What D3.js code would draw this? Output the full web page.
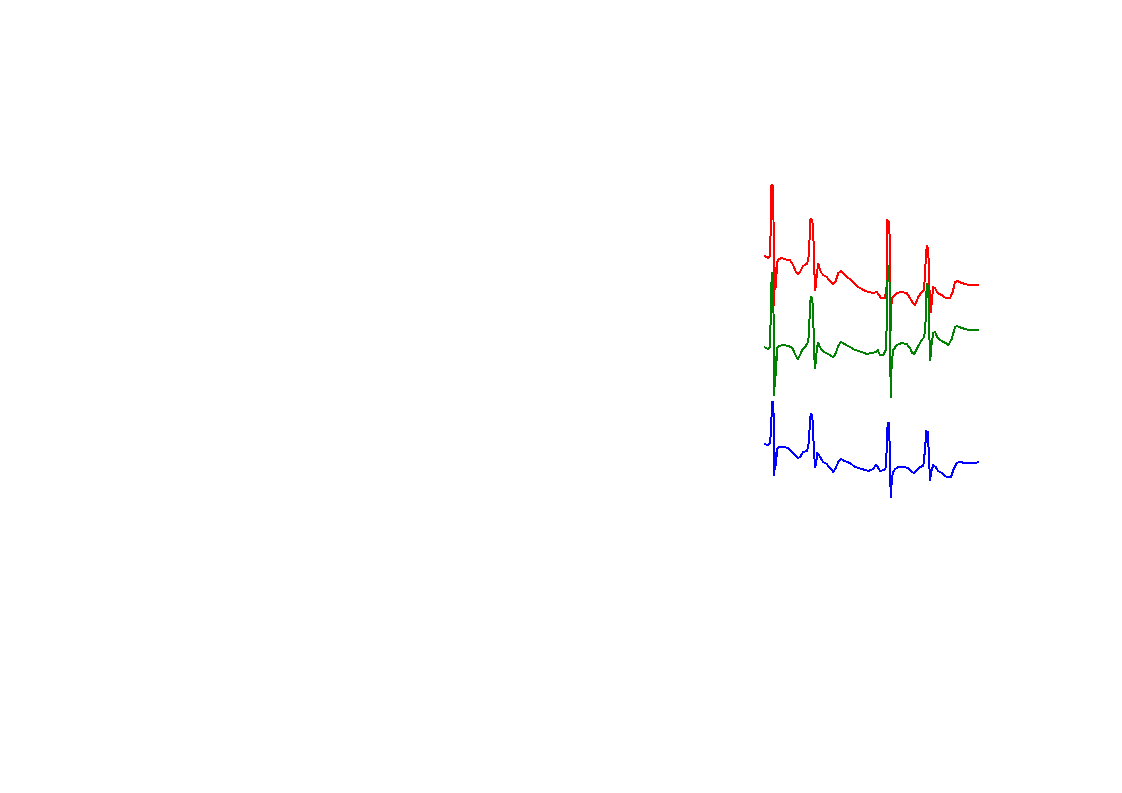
<!DOCTYPE html>
<html>
<head>
<meta charset="utf-8">
<script src="https://cdn.jsdelivr.net/npm/d3@7"></script>
<style>
  html, body { margin: 0; padding: 0; background: #fff; }
  svg { display: block; }
</style>
</head>
<body>
<div class="container"></div>
<script>
// three ECG leads, time in s, amplitude in mV (relative to each lead's own baseline)
const leadNames = ["I", "II", "III"];
const leadColors = ["red", "green", "blue"];
const leadOffsets = [0.91, 0, -0.97];

const redT = [0, .03, .045, .06, .067, .075, .09, .095, .102, .11, .12, .13, .15, .18, .23, .26, .29, .32, .34, .36, .39, .427, .443, .453, .465, .483, .493, .503, .51, .52, .53, .543, .553, .567, .593, .627, .66, .693, .717, .743, .77, .793, .843, .893, .943, .993, 1.043, 1.093, 1.127, 1.15, 1.17, 1.21, 1.225, 1.233, 1.253, 1.26, 1.267, 1.277, 1.293, 1.327, 1.377, 1.427, 1.46, 1.483, 1.51, 1.543, 1.577, 1.6, 1.61, 1.62, 1.63, 1.643, 1.65, 1.66, 1.67, 1.68, 1.693, 1.71, 1.737, 1.777, 1.817, 1.86, 1.887, 1.91, 1.937, 1.977, 2.043, 2.15];
const redV = [0, -.01, -.02, 0, .27, .71, .70, .36, -.49, -.12, -.31, -.06, -.03, -.02, -.04, -.04, -.09, -.16, -.18, -.16, -.10, -.08, -.04, .11, .37, .36, .23, -.12, -.34, -.29, -.16, -.08, -.11, -.16, -.19, -.21, -.25, -.28, -.25, -.17, -.15, -.17, -.22, -.26, -.31, -.34, -.36, -.37, -.36, -.39, -.42, -.42, -.32, .36, .34, -.04, -.74, -.42, -.41, -.37, -.36, -.37, -.42, -.46, -.49, -.41, -.36, -.34, -.19, .03, .10, .06, -.19, -.49, -.56, -.42, -.31, -.32, -.37, -.39, -.42, -.42, -.36, -.26, -.25, -.27, -.29, -.29];

const greenT = [0, .037, .057, .067, .077, .09, .097, .103, .113, .12, .13, .15, .193, .243, .283, .31, .337, .36, .387, .417, .443, .453, .467, .483, .493, .503, .51, .52, .53, .543, .553, .577, .617, .66, .687, .71, .743, .77, .803, .86, .91, .977, 1.027, 1.077, 1.117, 1.137, 1.16, 1.193, 1.217, 1.23, 1.237, 1.253, 1.26, 1.267, 1.277, 1.293, 1.327, 1.377, 1.427, 1.46, 1.483, 1.503, 1.537, 1.577, 1.603, 1.617, 1.627, 1.643, 1.65, 1.663, 1.677, 1.693, 1.71, 1.737, 1.777, 1.817, 1.843, 1.877, 1.91, 1.93, 1.977, 2.043, 2.15];
const greenV = [0, -.02, 0, .27, .74, .72, .20, -.48, -.10, -.28, -.01, .01, .02, .01, -.01, -.07, -.12, -.08, -.02, .01, .05, .24, .50, .49, .27, -.10, -.21, -.13, 0, .04, .01, -.03, -.06, -.08, -.10, -.08, .01, .05, .03, 0, -.03, -.05, -.07, -.06, -.05, -.03, -.08, -.08, -.03, .27, .81, .81, .27, -.50, -.15, -.03, .02, .04, .03, -.01, -.06, -.07, 0, .07, .10, .27, .63, .61, .20, -.13, .04, .14, .15, .09, .06, .04, .02, .08, .20, .21, .19, .17, .17];

const blueT = [0, .04, .06, .07, .08, .093, .097, .103, .113, .12, .13, .15, .193, .243, .283, .31, .337, .36, .393, .427, .443, .453, .467, .483, .493, .503, .513, .523, .533, .55, .567, .593, .627, .66, .693, .717, .743, .77, .803, .86, .91, .977, 1.043, 1.093, 1.117, 1.137, 1.16, 1.203, 1.22, 1.23, 1.237, 1.25, 1.26, 1.267, 1.277, 1.287, 1.31, 1.343, 1.393, 1.443, 1.477, 1.5, 1.527, 1.56, 1.593, 1.61, 1.623, 1.637, 1.647, 1.66, 1.677, 1.693, 1.717, 1.743, 1.777, 1.827, 1.87, 1.893, 1.927, 1.96, 2.01, 2.11, 2.15];
const blueV = [0, -.01, .01, .12, .42, .42, .21, -.31, -.09, -.21, -.05, -.03, -.03, -.04, -.08, -.11, -.14, -.13, -.08, -.07, -.03, .11, .30, .29, .07, -.13, -.23, -.18, -.09, -.11, -.14, -.18, -.20, -.24, -.28, -.24, -.18, -.15, -.17, -.19, -.23, -.25, -.27, -.25, -.21, -.23, -.27, -.26, -.23, .04, .21, .21, -.13, -.53, -.38, -.29, -.25, -.23, -.23, -.24, -.28, -.29, -.26, -.23, -.22, -.06, .13, .12, -.06, -.36, -.26, -.21, -.23, -.27, -.29, -.33, -.33, -.26, -.19, -.18, -.19, -.19, -.18];

const leadTimes = [redT, greenT, blueT];
const leadValues = [redV, greenV, blueV];

const width = 1122, height = 793;
const margin = {top: 147, right: 142, bottom: 246, left: 764};

const svg = d3.select('.container')
    .append('svg')
    .attr('width', width)
    .attr('height', height);

const xScale = d3.scaleLinear()
    .domain([0, 2.16])
    .range([margin.left, width - margin.right]);

const yScale = d3.scaleLinear()
    .domain([-2, 2])
    .range([height - margin.bottom, margin.top]);

const line = d3.line()
    .x(d => xScale(d.t))
    .y(d => yScale(d.v));

leadNames.forEach((name, i) => {
    const pts = leadTimes[i].map((t, j) => ({t: t, v: leadValues[i][j] + leadOffsets[i]}));
    svg.append('path')
        .datum(pts)
        .attr('class', 'lead lead-' + name)
        .attr('fill', 'none')
        .attr('stroke', leadColors[i])
        .attr('stroke-width', 2)
        .attr('stroke-linejoin', 'round')
        .attr('shape-rendering', 'crispEdges')
        .attr('d', line);
});
</script>
</body>
</html>
